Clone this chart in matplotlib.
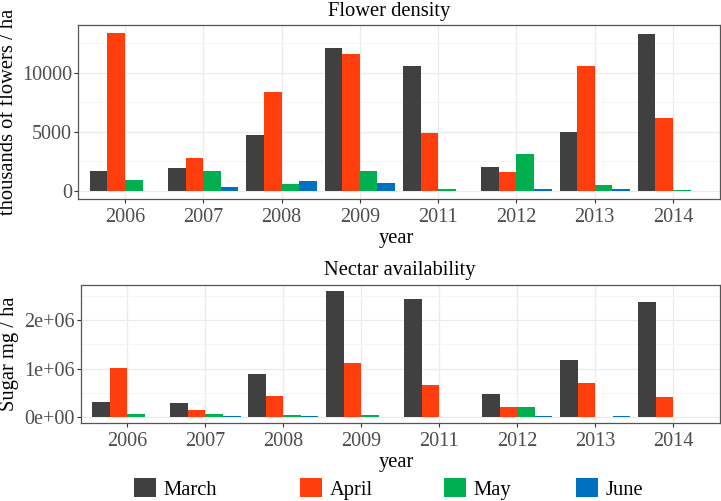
import matplotlib
matplotlib.use("Agg")
import matplotlib.pyplot as plt
import numpy as np
from matplotlib.patches import Patch
from matplotlib.ticker import FixedLocator, FuncFormatter

years = ["2006", "2007", "2008", "2009", "2011", "2012", "2013", "2014"]
months = ["March", "April", "May", "June"]
colors = ["#404040", "#FF3D0D", "#00B050", "#0070C0"]

flower_march = [1730, 1980, 4750, 12070, 10510, 2010, 5000, 13250]
flower_april = [13340, 2830, 8340, 11590, 4920, 1590, 10510, 6190]
flower_may = [910, 1670, 570, 1730, 170, 3090, 510, 60]
flower_june = [20, 310, 820, 680, 30, 170, 170, 20]

nectar_march = [317000, 296000, 887000, 2606000, 2430000, 480000, 1175000, 2386000]
nectar_april = [1004000, 138000, 440000, 1107000, 660000, 200000, 709000, 406000]
nectar_may = [56000, 56000, 35000, 35000, 10000, 200000, 10000, 10000]
nectar_june = [8000, 15000, 15000, 8000, 5000, 18000, 15000, 5000]

flower = [flower_march, flower_april, flower_may, flower_june]
nectar = [nectar_march, nectar_april, nectar_may, nectar_june]

plt.rcParams["font.family"] = ["Liberation Serif", "DejaVu Serif"]

W, H = 721, 501
fig = plt.figure(figsize=(W / 100, H / 100), dpi=100)


def ax_px(l, t, r, b):
    return fig.add_axes([l / W, 1 - b / H, (r - l) / W, (b - t) / H])


def style(ax, series, ylim, major, minor, fmt):
    x = np.arange(len(years))
    bw = 0.225
    for i, (vals, c) in enumerate(zip(series, colors)):
        ax.bar(x + (i - 1.5) * bw, vals, width=bw, color=c, linewidth=0, zorder=3)
    ax.set_xlim(-0.6, len(years) - 0.4)
    ax.set_ylim(*ylim)
    ax.set_xticks(x)
    ax.set_xticklabels(years)
    ax.yaxis.set_major_locator(FixedLocator(major))
    ax.yaxis.set_minor_locator(FixedLocator(minor))
    ax.yaxis.set_major_formatter(FuncFormatter(fmt))
    ax.grid(True, which="major", color="#EBEBEB", linewidth=0.9, zorder=0)
    ax.grid(True, which="minor", axis="y", color="#F4F4F4", linewidth=0.6, zorder=0)
    ax.set_axisbelow(True)
    for s in ax.spines.values():
        s.set_color("#555555")
        s.set_linewidth(0.9)
    ax.tick_params(axis="both", which="major", length=3, width=0.8, color="#333333",
                   labelsize=14.5, labelcolor="#4D4D4D", pad=1.2)
    ax.tick_params(axis="y", which="minor", length=0)
    ax.tick_params(axis="x", pad=3.2)


ax1 = ax_px(78, 25, 720, 199)
style(ax1, flower, (-667, 14007), [0, 5000, 10000], [2500, 7500, 12500],
      lambda v, p: f"{int(v)}")
ax2 = ax_px(80.7, 284.7, 720, 423.3)
style(ax2, nectar, (-130000, 2736000), [0, 1e6, 2e6], [5e5, 1.5e6, 2.5e6],
      lambda v, p: f"{int(round(v / 1e6))}e+{6 if v else 0:02d}")

fig.text(389 / W, 1 - 16 / H, "Flower density", ha="center", va="baseline", fontsize=14.8)
fig.text(400 / W, 1 - 275 / H, "Nectar availability", ha="center", va="baseline", fontsize=14.8)
fig.text(396 / W, 1 - 243 / H, "year", ha="center", va="baseline", fontsize=14.8)
fig.text(396 / W, 1 - 467 / H, "year", ha="center", va="baseline", fontsize=14.8)
fig.text(9 / W, 1 - 112 / H, "thousands of flowers / ha", rotation=90, ha="center", va="center", fontsize=14.8)
fig.text(9.5 / W, 1 - 354 / H, "Sugar mg / ha", rotation=90, ha="center", va="center", fontsize=14.8)

key_x = [134, 300, 444, 576]
for m, c, kx in zip(months, colors, key_x):
    fig.legend(handles=[Patch(facecolor=c, edgecolor="none", label=m)],
               loc="center left", bbox_to_anchor=(kx / W, 1 - 489 / H),
               frameon=False, fontsize=14.8, handlelength=1.05, handleheight=1.05,
               handletextpad=0.4, borderpad=0, borderaxespad=0)

fig.savefig("out.png", dpi=100)
